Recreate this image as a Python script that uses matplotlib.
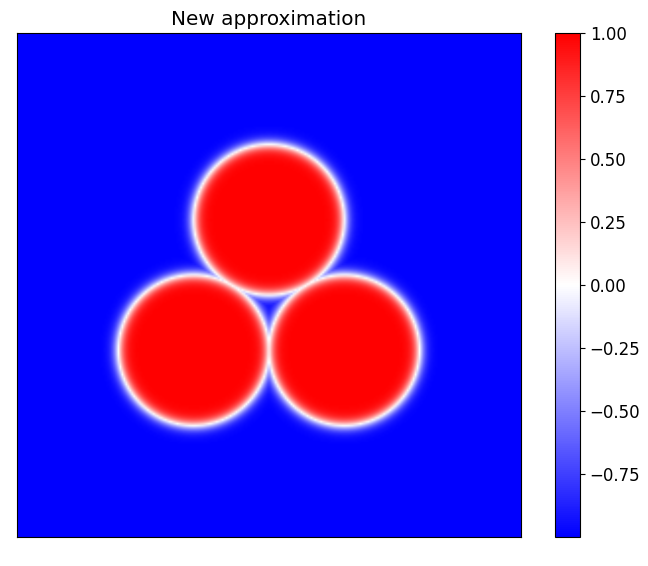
import numpy as np
import matplotlib
matplotlib.use("Agg")
import matplotlib.pyplot as plt

# Circle parameters (domain [0,1]x[0,1], image rows from top)
centers_x = [0.50, 0.35, 0.65]
centers_y = [0.37, 0.63, 0.63]
radius = 0.15
epsilon = 0.01
n_grid = 256
vmin, vmax = -0.999, 1.0

xs = np.linspace(0, 1, n_grid)
X, Y = np.meshgrid(xs, xs)
U = np.full_like(X, -1.0)
for cx, cy in zip(centers_x, centers_y):
    d = np.sqrt((X - cx) ** 2 + (Y - cy) ** 2)
    U = np.maximum(U, np.tanh((radius - d) / (np.sqrt(2) * epsilon)))

fig = plt.figure(figsize=(6.48, 5.66), dpi=100)
ax = fig.add_axes([17/648, 1-537/566, 504/648, 504/566])
im = ax.imshow(U, cmap='bwr', vmin=vmin, vmax=vmax, extent=[0, 1, 1, 0], interpolation='bilinear')
ax.set_xticks([])
ax.set_yticks([])
ax.set_title("New approximation", fontsize=14.4)
cax = fig.add_axes([555/648, 1-537/566, 25/648, 504/566])
cb = fig.colorbar(im, cax=cax)
cb.ax.tick_params(labelsize=12)
fig.savefig("out.png", dpi=100)
